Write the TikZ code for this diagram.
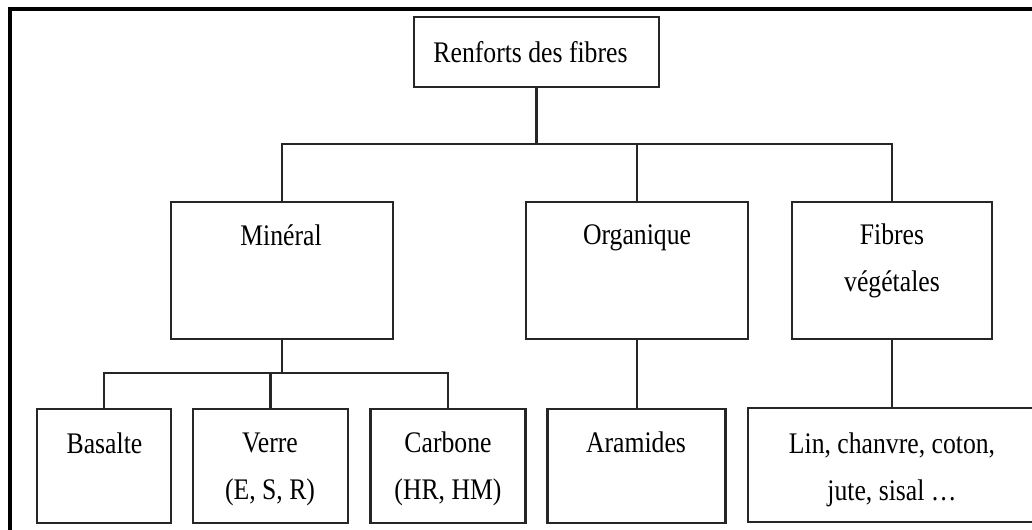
\documentclass[tikz,border=0pt]{standalone}
\usepackage{fontspec}
\setmainfont[FakeStretch=0.86]{Liberation Serif}

\tikzset{
  boite/.style={draw=black!85, line width=1.3pt, inner sep=0pt, minimum height=2.74cm},
  feuille/.style={boite, minimum height=2.28cm},
  lien/.style={draw=black!85, line width=1.2pt},
  texte/.style={font=\fontsize{17}{26.5}\selectfont, align=center, inner sep=0pt, anchor=base}
}

\begin{document}
\begin{tikzpicture}
\useasboundingbox (0,0) rectangle (20.64,-10.6);
\clip (0,0) rectangle (20.64,-10.6);

% Cadre
\draw[line width=1.8pt] (0.2,-10.6) -- (0.2,-0.18) -- (20.64,-0.18);

% Racine
\node[boite, minimum width=4.9cm, minimum height=1.4cm] (racine) at (10.73,-1.04) {};
\node[texte] (racine-t) at (10.61,-1.26) {Renforts des fibres};

% Familles
\node[boite, minimum width=4.44cm] (mineral) at (5.64,-5.41) {};
\node[boite, minimum width=4.45cm] (organique) at (12.74,-5.41) {};
\node[boite, minimum width=4.0cm] (vegetal) at (17.84,-5.41) {};
\node[texte] (mineral-t) at (5.62,-4.92) {Minéral};
\node[texte] (organique-t) at (12.74,-4.90) {Organique};
\node[texte] (vegetal-t) at (17.84,-5.83) {Fibres\\végétales};

% Fibres
\node[feuille, minimum width=2.68cm] (basalte) at (2.08,-9.32) {};
\node[feuille, minimum width=3.1cm] (verre) at (5.41,-9.32) {};
\node[feuille, minimum width=3.1cm] (carbone) at (8.96,-9.32) {};
\node[feuille, minimum width=3.56cm] (aramide) at (12.73,-9.32) {};
\node[feuille, minimum width=5.76cm] (lin) at (17.84,-9.30) {};
\node[texte] (basalte-t) at (2.09,-9.06) {Basalte};
\node[texte] (verre-t) at (5.40,-9.98) {Verre\\(E, S, R)};
\node[texte] (carbone-t) at (8.96,-9.99) {Carbone\\(HR, HM)};
\node[texte] (aramide-t) at (12.72,-9.04) {Aramides};
\node[texte] (lin-t) at (17.84,-10.0) {Lin, chanvre, coton,\\jute, sisal \dots};

% Liens du premier niveau
\coordinate (bus1) at (0,-2.88);
\draw[lien] (racine.south) -- (racine.south |- bus1);
\draw[lien] (mineral.north) -- (mineral.north |- bus1) -- (vegetal.north |- bus1) -- (vegetal.north);
\draw[lien] (organique.north) -- (organique.north |- bus1);

% Liens du second niveau
\coordinate (bus2) at (0,-7.46);
\draw[lien] (mineral.south) -- (mineral.south |- bus2);
\draw[lien] (basalte.north) -- (basalte.north |- bus2) -- (carbone.north |- bus2) -- (carbone.north);
\draw[lien] (verre.north) -- (verre.north |- bus2);
\draw[lien] (organique.south) -- (organique.south |- aramide.north);
\draw[lien] (vegetal.south) -- (lin.north);
\end{tikzpicture}
\end{document}
